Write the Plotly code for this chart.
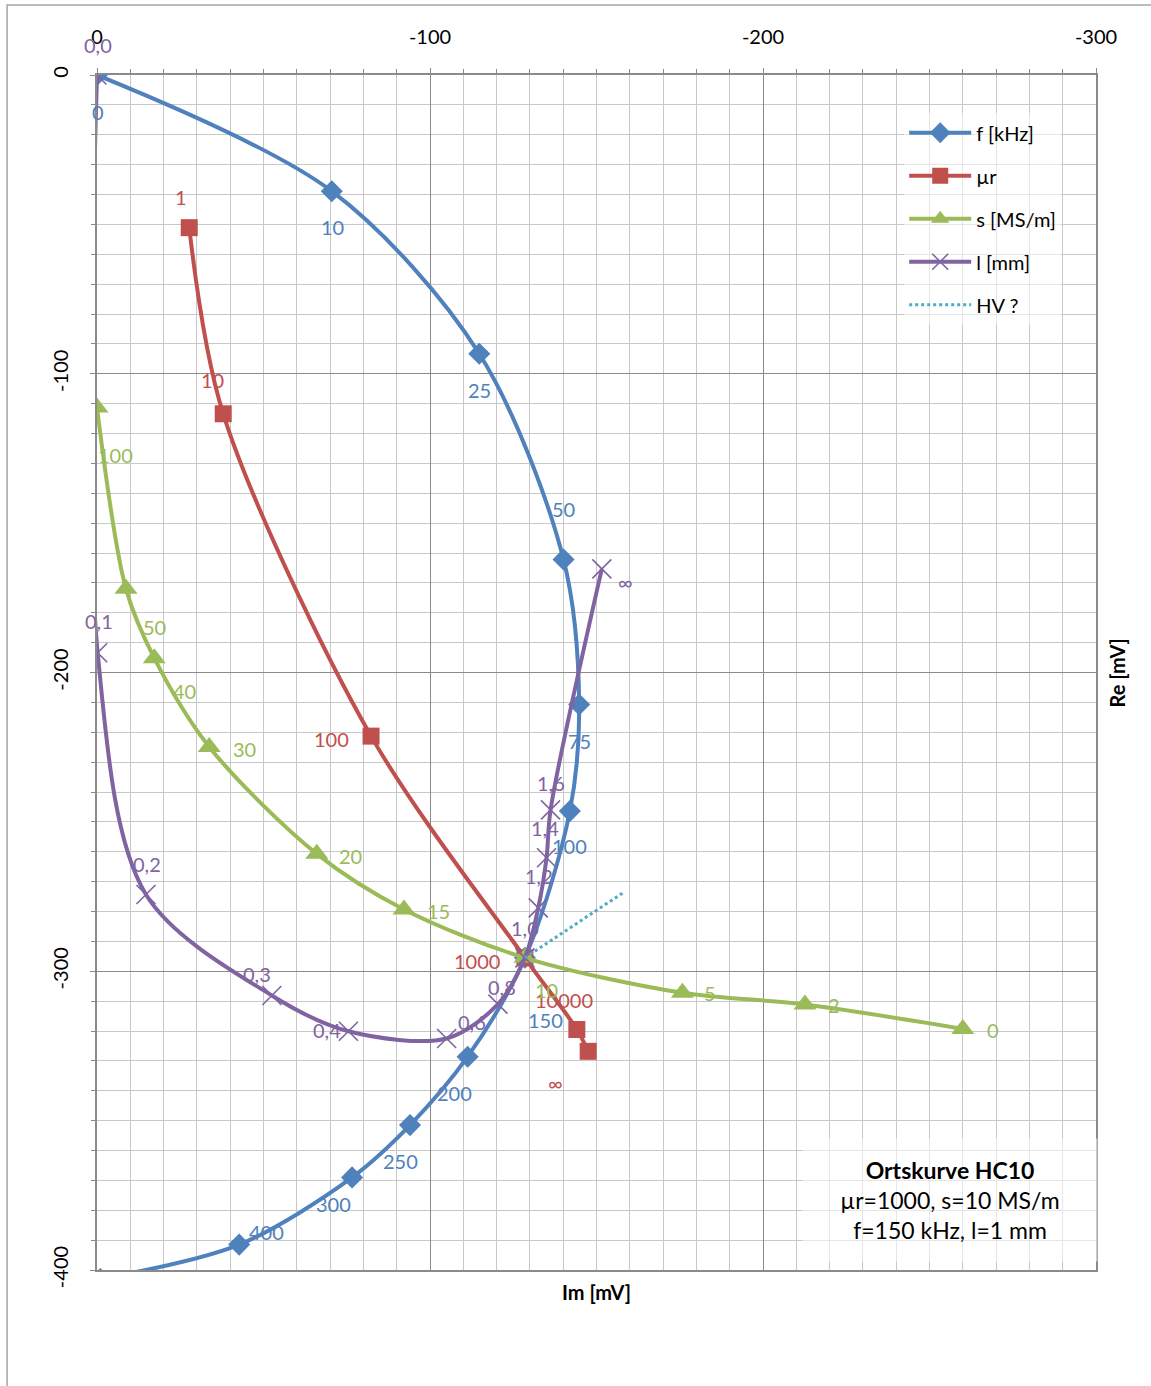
import plotly.graph_objects as go

# ---------------- data ----------------
f_labels = ["0", "10", "25", "50", "75", "100", "150", "200", "250", "300", "400", ""]
f_im = [0, -70.5, -114.8, -140.1, -144.8, -142.0, -128.5, -111.3, -94.0, -76.6, -42.7, -1.0]
f_re = [0, -38.9, -93.3, -162.2, -210.7, -246.4, -295.5, -328.6, -351.5, -369.0, -391.5, -403.0]

mu_labels = ["1", "10", "100", "1000", "10000", "∞"]
mu_im = [-27.7, -37.9, -82.3, -128.5, -144.1, -147.5]
mu_re = [-51.1, -113.4, -221.3, -295.5, -319.5, -326.8]

s_labels = ["100", "50", "40", "30", "20", "15", "10", "5", "2", "0"]
s_im = [0, -8.7, -17.2, -33.7, -66.0, -92.2, -128.5, -175.8, -212.6, -260.0]
s_re = [-111.3, -172.0, -195.2, -224.9, -260.7, -279.3, -295.5, -307.2, -311.1, -319.3]

l_labels = ["0,0", "0,1", "0,2", "0,3", "0,4", "0,6", "0,8", "1,0", "1,2", "1,4", "1,6", "∞"]
l_im = [0, -0.2, -14.7, -52.5, -75.5, -105.0, -120.4, -128.5, -132.5, -135.0, -136.2, -151.6]
l_re = [0, -193.4, -274.3, -308.1, -320.1, -322.5, -311.0, -295.5, -278.8, -262.0, -246.0, -165.3]

hv_im = [-128.5, -158.0]
hv_re = [-295.5, -273.7]

x_tickvals = [0, -100, -200, -300]
x_ticktext = ["0", "-100", "-200", "-300"]
y_tickvals = [0, -100, -200, -300, -400]
y_ticktext = ["0", "-100", "-200", "-300", "-400"]

# ---------------- styles ----------------
BLUE, RED, GREEN, PURPLE, TEAL = "#4F81BD", "#C0504D", "#9BBB59", "#8064A2", "#4BACC6"
FONT = "Lato"

# label offsets in px (dx right, dy down)
f_off = [(1, 37), (1, 36), (0, 36), (0, -51), (0, 37), (0, 35), (21, 62), (-13, 36), (-10, 36), (-19, 27), (27, -13), (0, 0)]
mu_off = [(-8, -31), (-11, -34), (-40, 3), (-48, 3), (-13, -30), (-33, 32)]
s_off = [(18, 47), (29, 38), (30, 33), (35, 2), (34, 2), (34, 2), (22, 32), (28, 0), (29, 1), (30, 1)]
l_off = [(1, -30), (1, -32), (1, -30), (-15, -21), (-21, -1), (25, -16), (4, -17), (0, -30), (1, -32), (-2, -30), (0, -27), (24, 13)]

fig = go.Figure()

fig.add_trace(go.Scatter(
    x=f_im, y=f_re, name="f [kHz]", mode="lines+markers", legendgroup="a",
    line=dict(color=BLUE, width=4, shape="spline", smoothing=0.9),
    marker=dict(symbol="diamond", size=17, color=BLUE)))
fig.add_trace(go.Scatter(
    x=mu_im, y=mu_re, name="µr", mode="lines+markers", legendgroup="b",
    line=dict(color=RED, width=4, shape="spline", smoothing=0.9),
    marker=dict(symbol="square", size=17, color=RED)))
fig.add_trace(go.Scatter(
    x=s_im, y=s_re, name="s [MS/m]", mode="lines+markers", legendgroup="c",
    line=dict(color=GREEN, width=4, shape="spline", smoothing=0.9),
    marker=dict(symbol="triangle-up", size=20, color=GREEN)))
fig.add_trace(go.Scatter(
    x=l_im, y=l_re, name="l [mm]", mode="lines+markers", legendgroup="d",
    line=dict(color=PURPLE, width=4, shape="spline", smoothing=0.9),
    marker=dict(symbol="x-thin", size=19, color=PURPLE, line=dict(color=PURPLE, width=1.6))))
fig.add_trace(go.Scatter(
    x=hv_im, y=hv_re, name="HV ?", mode="lines", legendgroup="e",
    line=dict(color=TEAL, width=3, dash="dot")))

annotations = []
for xs, ys, labs, offs, col in [
    (f_im, f_re, f_labels, f_off, BLUE),
    (mu_im, mu_re, mu_labels, mu_off, RED),
    (s_im, s_re, s_labels, s_off, GREEN),
    (l_im, l_re, l_labels, l_off, PURPLE),
]:
    for x, y, t, (dx, dy) in zip(xs, ys, labs, offs):
        if not t:
            continue
        annotations.append(dict(x=x, y=y, xref="x", yref="y", text=t, showarrow=False,
                                xshift=dx, yshift=-dy, font=dict(family=FONT, size=20, color=col)))

annotations.append(dict(
    x=0.854, y=0.0586, xref="paper", yref="paper", xanchor="center", yanchor="middle",
    text="<b>Ortskurve HC10</b><br>µr=1000, s=10 MS/m<br>f=150 kHz, l=1 mm",
    showarrow=False, align="center", width=292, height=120,
    bgcolor="rgba(255,255,255,0.55)", font=dict(family=FONT, size=23, color="black")))
annotations.append(dict(
    x=0.5, y=-0.007, xref="paper", yref="paper", xanchor="center", yanchor="top",
    text="<b>Im [mV]</b>", showarrow=False, font=dict(family=FONT, size=20, color="black")))
annotations.append(dict(
    x=1.021, y=0.5, xref="paper", yref="paper", xanchor="center", yanchor="middle",
    text="<b>Re [mV]</b>", textangle=-90, showarrow=False, font=dict(family=FONT, size=20, color="black")))

GRID_MAJOR = "#8a8a8a"
GRID_MINOR = "#c8c8c8"

fig.update_layout(
    width=1151, height=1386,
    margin=dict(l=97, r=55, t=75, b=116),
    paper_bgcolor="white", plot_bgcolor="white",
    font=dict(family=FONT, size=20, color="black"),
    showlegend=True,
    legend=dict(x=0.808, y=0.968, xanchor="left", yanchor="top",
                bgcolor="rgba(255,255,255,0.55)", font=dict(family=FONT, size=20, color="black"),
                traceorder="grouped", tracegroupgap=14, itemwidth=62),
    annotations=annotations,
    shapes=[dict(type="rect", xref="paper", yref="paper",
                 x0=-0.090, x1=1.07, y0=-0.12, y1=1.0586,
                 line=dict(color="#a6a6a6", width=1.5), fillcolor="rgba(0,0,0,0)", layer="below")],
)

fig.update_xaxes(
    range=[0, -300], side="top", tickvals=x_tickvals, ticktext=x_ticktext,
    showgrid=True, gridcolor=GRID_MAJOR, gridwidth=1,
    minor=dict(dtick=10, tick0=0, showgrid=True, gridcolor=GRID_MINOR, gridwidth=1,
               ticks="outside", ticklen=4, tickcolor=GRID_MAJOR),
    ticks="outside", ticklen=5, tickcolor=GRID_MAJOR,
    showline=True, mirror=True, linecolor=GRID_MAJOR, linewidth=1.5,
    zeroline=False, tickfont=dict(family=FONT, size=20, color="black"),
    ticklabelstandoff=16,
)
fig.update_yaxes(
    range=[-400, 0], tickvals=y_tickvals, ticktext=y_ticktext, tickangle=-90,
    showgrid=True, gridcolor=GRID_MAJOR, gridwidth=1,
    minor=dict(dtick=10, tick0=0, showgrid=True, gridcolor=GRID_MINOR, gridwidth=1,
               ticks="outside", ticklen=4, tickcolor=GRID_MAJOR),
    ticks="outside", ticklen=5, tickcolor=GRID_MAJOR,
    showline=True, mirror=True, linecolor=GRID_MAJOR, linewidth=1.5,
    zeroline=False, tickfont=dict(family=FONT, size=20, color="black"),
    ticklabelstandoff=14,
)

fig.write_html("out.html", config={"displayModeBar": False},
               post_script="document.body.style.margin='0';")
